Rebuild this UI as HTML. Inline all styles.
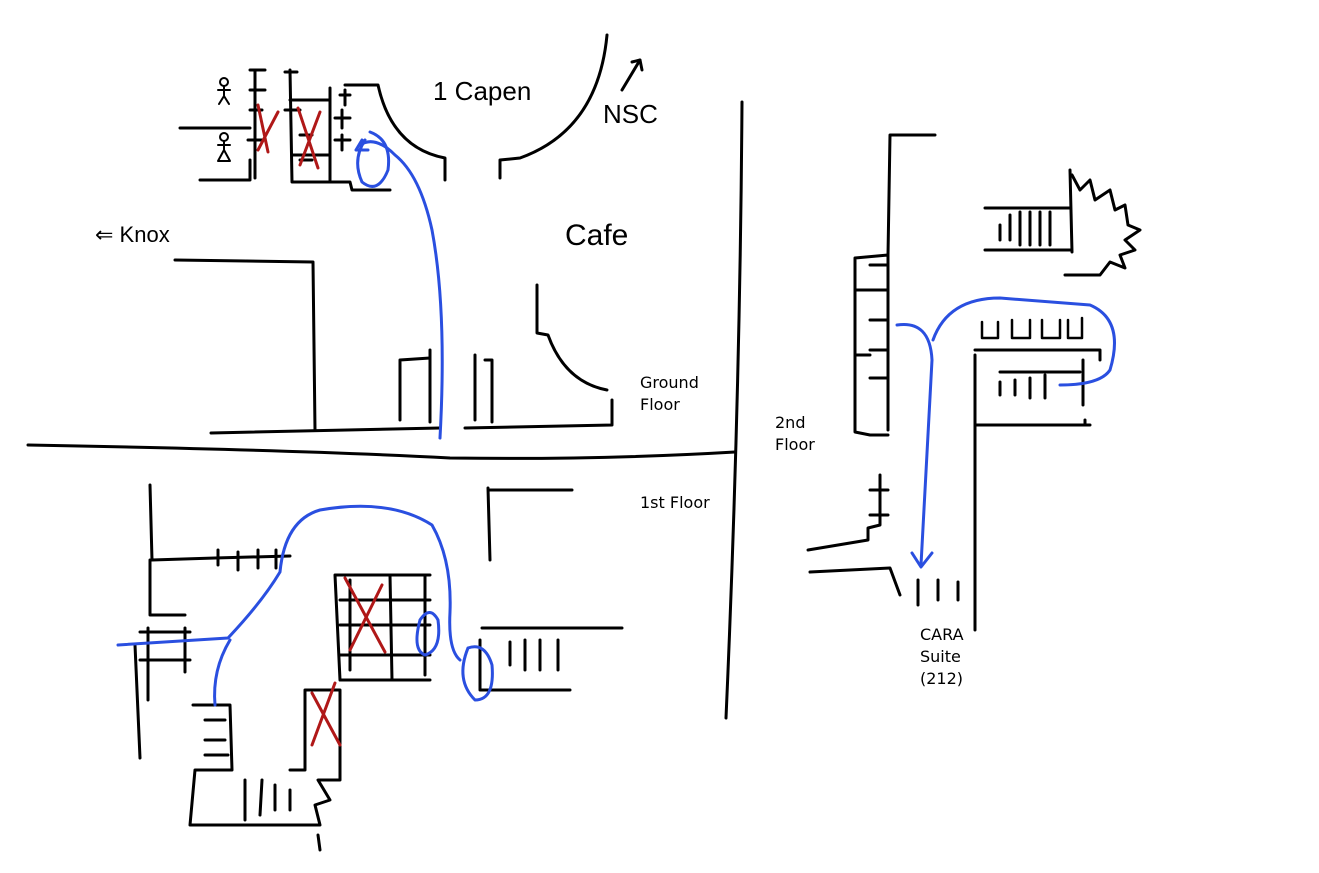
<!DOCTYPE html>
<html><head><meta charset="utf-8"><style>
html,body{margin:0;padding:0;background:#fff;width:1319px;height:873px;overflow:hidden}
svg{display:block}
.k{fill:none;stroke:#000;stroke-width:3;stroke-linecap:round;stroke-linejoin:round}
.b{fill:none;stroke:#2a4fe0;stroke-width:3;stroke-linecap:round;stroke-linejoin:round}
.r{fill:none;stroke:#b01818;stroke-width:3;stroke-linecap:round}
.t{font-family:"DejaVu Sans","Liberation Sans",sans-serif;font-size:16px;fill:#000}
.h{font-family:"Liberation Sans",sans-serif;font-size:26px;fill:#000}
</style></head><body>
<svg width="1319" height="873" viewBox="0 0 1319 873" xmlns="http://www.w3.org/2000/svg">
<!-- dividers -->
<path class="k" d="M28,445 Q300,450 450,458 Q600,460 735,452"/>
<path class="k" d="M742,102 Q740,400 726,718"/>

<!-- ===== Ground floor ===== -->
<text class="h" x="433" y="100">1 Capen</text>
<text class="h" x="603" y="123">NSC</text>
<path class="k" d="M622,90 L640,60 M632,62 L640,60 L642,70"/>
<text class="h" x="95" y="242" style="font-size:22px">⇐ Knox</text>
<text class="h" x="565" y="245" style="font-size:30px">Cafe</text>
<text class="t" x="640" y="388">Ground</text>
<text class="t" x="640" y="410">Floor</text>

<path class="k" d="M500,178 L500,160 L520,158 Q598,130 607,35"/>
<path class="k" d="M345,85 L378,85 Q392,148 445,158 L445,180"/>
<path class="k" d="M180,128 L250,128 M200,180 L250,180 L250,160 M290,70 L292,182 L350,182 L352,190 L390,190 M290,100 L330,100 M292,155 L330,155 M255,70 L255,178"/>
<!-- stall I shapes -->
<path class="k" d="M250,70 L265,70 M250,90 L265,90 M250,110 L262,110 M248,140 L262,140 M285,72 L297,72 M285,110 L300,110 M300,135 L312,135 M300,160 L312,160 M340,95 L350,95 M345,90 L345,105 M335,118 L350,118 M342,110 L342,128 M335,140 L350,140 M342,135 L342,150 M330,88 L330,180"/>
<!-- people icons -->
<circle class="k" cx="224" cy="82" r="4" style="stroke-width:2"/>
<path class="k" style="stroke-width:2" d="M224,86 L224,96 M218,90 L230,90 M224,96 L219,104 M224,96 L229,104"/>
<circle class="k" cx="224" cy="137" r="4" style="stroke-width:2"/>
<path class="k" style="stroke-width:2" d="M224,141 L224,150 M218,145 L230,145 M224,150 L218,161 L230,161 Z"/>
<!-- red X top -->
<path class="r" d="M258,105 L268,152 M278,112 L258,150 M298,108 L318,168 M320,112 L300,165"/>
<!-- buildings -->
<path class="k" d="M175,260 L313,262 L315,430"/>
<path class="k" d="M211,433 L440,428"/>
<path class="k" d="M400,420 L400,360 L430,358 M430,350 L430,422 M475,355 L475,420 M485,360 L492,360 L492,422 M465,428 L612,425 M612,400 L612,425"/>
<path class="k" d="M537,285 L537,333 L548,335 Q565,382 607,390"/>
<!-- blue ground -->
<path class="b" d="M440,438 Q447,310 432,230 Q420,175 395,155 Q375,135 360,145"/>
<path class="b" d="M365,140 Q352,160 362,182 Q378,195 388,170 Q392,140 370,132"/>
<path class="b" d="M356,150 L362,140 M356,150 L368,150"/>

<!-- ===== 1st floor ===== -->
<text class="t" x="640" y="508">1st Floor</text>
<path class="k" d="M150,485 L152,560 L215,558 L290,556 M150,560 L150,615 L185,615 M148,628 L148,700 M135,645 L140,758 M185,628 L185,672 M140,632 L190,632 M140,660 L190,660"/>
<path class="k" d="M218,550 L218,565 M238,552 L238,570 M258,550 L258,568 M276,550 L276,568"/>
<path class="k" d="M335,575 L430,575 M335,575 L340,680 L430,680 M390,575 L392,680 M340,600 L430,600 M340,625 L430,625 M340,655 L430,655 M350,580 L350,670 M425,575 L425,675"/>
<path class="k" d="M488,488 L490,560 M490,490 L572,490 M482,628 L622,628 M480,640 L480,690 L570,690 M510,642 L510,665 M525,640 L525,670 M540,640 L540,670 M558,640 L558,670"/>
<path class="k" d="M193,705 L230,705 L232,770 L195,770 L190,825 L320,825 L315,805 L330,800 L318,780 L340,780 L340,690 L305,690 L305,770 L290,770 M318,835 L320,850 M205,720 L225,720 M205,740 L225,740 M205,755 L228,755 M245,780 L245,820 M262,780 L260,815 M275,785 L275,810 M290,790 L290,810"/>
<path class="r" d="M345,578 L385,652 M382,585 L350,650 M312,693 L340,745 M335,683 L312,745"/>
<!-- blue 1st -->
<path class="b" d="M118,645 L228,638 Q262,602 280,572 Q285,520 320,510 Q390,498 432,525 Q452,560 450,612 Q448,650 460,660"/>
<path class="b" d="M230,640 Q212,670 215,705"/>
<path class="b" d="M420,620 Q412,650 425,655 Q442,650 438,620 Q430,605 420,620"/>
<path class="b" d="M468,648 Q455,680 475,700 Q495,700 492,665 Q485,642 468,648"/>

<!-- ===== 2nd floor ===== -->
<text class="t" x="775" y="428">2nd</text>
<text class="t" x="775" y="450">Floor</text>
<text class="t" x="920" y="640">CARA</text>
<text class="t" x="920" y="662">Suite</text>
<text class="t" x="920" y="684">(212)</text>
<path class="k" d="M935,135 L890,135 L888,255 L855,258 L855,432 L870,435 L888,435 M888,255 L888,430 M870,265 L888,265 M870,290 L888,290 M870,320 L888,320 M870,350 L888,350 M870,378 L888,378 M855,290 L870,290 M855,355 L870,355"/>
<path class="k" d="M880,475 L880,525 L868,528 L868,540 L808,550 M870,490 L888,490 M870,515 L888,515 M810,572 L890,568 L900,595 M918,580 L918,605 M938,580 L938,600 M958,582 L958,600"/>
<path class="k" d="M985,208 L1070,208 M985,250 L1070,250 M1070,170 L1072,252 M1000,225 L1000,240 M1010,215 L1010,240 M1020,212 L1020,245 M1030,212 L1030,245 M1040,212 L1040,245 M1050,212 L1050,245"/>
<path class="k" d="M1072,175 L1080,190 L1090,180 L1095,200 L1110,190 L1115,210 L1125,205 L1128,225 L1140,230 L1125,240 L1135,250 L1120,255 L1125,268 L1110,262 L1100,275 L1065,275"/>
<path class="k" d="M975,350 L1100,350 M975,355 L975,630 M1000,372 L1080,372 M1083,360 L1083,405 M1085,420 L1085,425 L1080,425 M1000,382 L1000,395 M1015,380 L1015,395 M1030,378 L1030,398 M1045,375 L1045,398 M975,425 L1090,425 M1100,350 L1100,360"/>
<path class="k" style="stroke-width:2.5" d="M982,322 L982,338 L998,338 L998,322 M1012,320 L1012,338 L1030,338 L1030,320 M1042,320 L1042,338 L1060,338 L1060,320 M1068,320 L1068,338 L1082,338 L1082,318"/>
<!-- blue 2nd -->
<path class="b" d="M897,325 Q930,320 932,360 L921,565"/>
<path class="b" d="M912,553 L921,567 L932,553"/>
<path class="b" d="M933,340 Q948,298 1000,298 L1090,305 Q1125,320 1110,370 Q1100,385 1060,385"/>
</svg>
</body></html>
